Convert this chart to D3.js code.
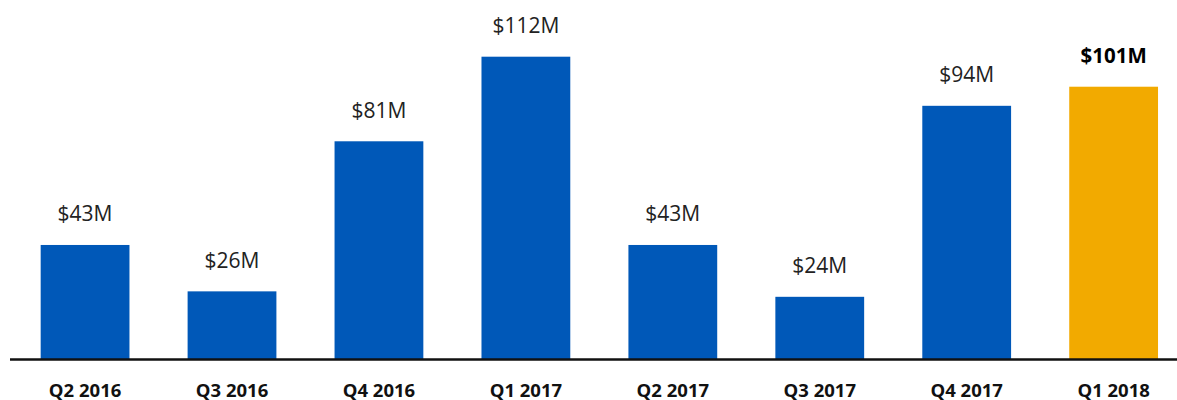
<!DOCTYPE html>
<html>
<head>
<meta charset="utf-8">
<script src="https://cdn.jsdelivr.net/npm/d3@7"></script>
<style>
  html, body { margin: 0; padding: 0; background: #fff; }
  svg { display: block; }
</style>
</head>
<body>
<svg id="chart" width="1177" height="400"></svg>
<script>
const categories = ["Q2 2016", "Q3 2016", "Q4 2016", "Q1 2017", "Q2 2017", "Q3 2017", "Q4 2017", "Q1 2018"];
const values = [43, 26, 81, 112, 43, 24, 94, 101];
const valueLabels = ["$43M", "$26M", "$81M", "$112M", "$43M", "$24M", "$94M", "$101M"];
const highlightIndex = 7;

const svg = d3.select("#chart");
const axisY = 359.6;

const x = d3.scaleBand()
  .domain(categories)
  .range([11.6, 1187.1])
  .paddingInner(0.3957)
  .paddingOuter(0.3957 / 2);

const y = d3.scaleLinear()
  .domain([0, 112])
  .range([362.3, 56.7]);

const data = categories.map((c, i) => ({ c, v: values[i], label: valueLabels[i], hi: i === highlightIndex }));

svg.append("g").selectAll("rect")
  .data(data)
  .join("rect")
  .attr("x", d => x(d.c))
  .attr("width", x.bandwidth())
  .attr("y", d => y(d.v))
  .attr("height", d => axisY - y(d.v))
  .attr("fill", d => d.hi ? "#F2AA00" : "#0058B8");

svg.append("g").selectAll("text")
  .data(data)
  .join("text")
  .attr("x", d => x(d.c) + x.bandwidth() / 2)
  .attr("y", d => y(d.v) - 23.5)
  .attr("text-anchor", "middle")
  .attr("font-family", "'Open Sans', sans-serif")
  .attr("font-size", d => d.hi ? 20.5 : 21)
  .attr("font-weight", d => d.hi ? 700 : 400)
  .attr("fill", d => d.hi ? "#000" : "#222")
  .text(d => d.label);

svg.append("line")
  .attr("x1", 10).attr("x2", 1177)
  .attr("y1", axisY).attr("y2", axisY)
  .attr("stroke", "#111").attr("stroke-width", 2.5);

const xAxis = d3.axisBottom(x).tickSize(0).tickPadding(0);
const gx = svg.append("g").attr("transform", `translate(0, ${axisY})`).call(xAxis);
gx.select(".domain").remove();
gx.selectAll("text")
  .attr("dy", null)
  .attr("y", 37)
  .attr("font-family", "'Open Sans', sans-serif")
  .attr("font-size", 18.5)
  .attr("font-weight", 700)
  .attr("fill", "#111");
</script>
</body>
</html>
